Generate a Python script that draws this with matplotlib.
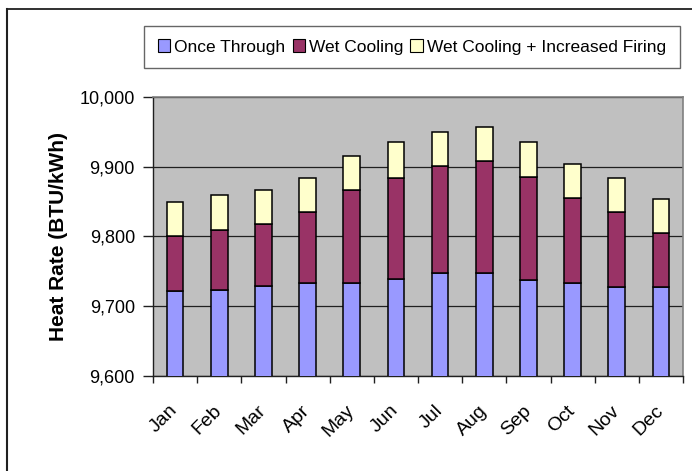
import numpy as np
import matplotlib
matplotlib.use("Agg")
import matplotlib.pyplot as plt
import matplotlib.transforms as mtransforms
from matplotlib.lines import Line2D
from matplotlib.patches import Patch

plt.rcParams['font.family'] = ['Liberation Sans', 'DejaVu Sans']

months = ['Jan', 'Feb', 'Mar', 'Apr', 'May', 'Jun',
          'Jul', 'Aug', 'Sep', 'Oct', 'Nov', 'Dec']
# Heat rate in BTU/kWh (stacked segments)
once_through = [9722, 9724, 9729, 9734, 9734, 9739, 9747, 9747, 9737, 9734, 9727, 9727]
wet_cooling = [79, 86, 89, 101, 133, 145, 154, 161, 149, 121, 108, 78]
increased_firing = [49, 50, 49, 49, 49, 52, 49, 49, 49, 49, 49, 49]
y_ticks = [9600, 9700, 9800, 9900, 10000]
series_names = ['Once Through', 'Wet Cooling', 'Wet Cooling + Increased Firing']

W, H = 692, 471
fig = plt.figure(figsize=(W / 100, H / 100), dpi=100)
ax = fig.add_axes([153 / W, 1 - 376 / H, 530 / W, 279 / H])
ax.set_facecolor('#C0C0C0')

x = np.arange(len(months))
once = np.array(once_through)
wet = np.array(wet_cooling)
fire = np.array(increased_firing)
colors = ['#9999FF', '#993366', '#FFFFCC']
bw = 0.38
ax.bar(x, once, bw, color=colors[0], edgecolor='black', linewidth=1.1, zorder=3)
ax.bar(x, wet, bw, bottom=once, color=colors[1], edgecolor='black', linewidth=1.1, zorder=3)
ax.bar(x, fire, bw, bottom=once + wet, color=colors[2], edgecolor='black', linewidth=1.1, zorder=3)

ax.set_ylim(9600, 10000)
ax.set_xlim(-0.5, len(months) - 0.5)
ax.set_yticks(y_ticks)
ax.set_yticklabels([f'{v:,}' for v in y_ticks], fontsize=13)
ax.yaxis.grid(True, color='#202020', linewidth=0.9, zorder=1)
ax.set_axisbelow(True)

ax.set_xticks(x)
ax.set_xticklabels(months, fontsize=14, rotation=45, ha='right', va='center',
                   rotation_mode='anchor')
shift = mtransforms.ScaledTranslation(-3 / 100, 0, fig.dpi_scale_trans)
for lbl in ax.get_xticklabels():
    lbl.set_transform(lbl.get_transform() + shift)
ax.set_xticks(np.arange(-0.5, len(months)), minor=True)
ax.tick_params(axis='x', which='major', length=0, pad=23)
ax.tick_params(axis='x', which='minor', length=5, width=1, color='#202020')
ax.tick_params(axis='y', length=7, width=1, color='#202020', pad=6)

for s in ['top', 'right']:
    ax.spines[s].set_color('#808080')
    ax.spines[s].set_linewidth(1.2)
for s in ['left', 'bottom']:
    ax.spines[s].set_color('#202020')
    ax.spines[s].set_linewidth(1)

ax.set_ylabel('Heat Rate (BTU/kWh)', fontsize=15, fontweight='bold', labelpad=8)

handles = [Patch(facecolor=c, edgecolor='black', linewidth=0.8) for c in colors]
leg = fig.legend(handles, series_names, loc='center',
                 bbox_to_anchor=(412 / W, 1 - 47 / H), ncol=3, fontsize=12.5,
                 frameon=True, fancybox=False, edgecolor='#404040',
                 handlelength=0.7, handleheight=0.7, handletextpad=0.25,
                 columnspacing=0.4, borderpad=0.8, borderaxespad=0)
leg.get_frame().set_linewidth(1)

# outer chart border (top and left edges visible)
fig.add_artist(Line2D([7 / W, 1], [1 - 9 / H, 1 - 9 / H], color='#202020', linewidth=1.3))
fig.add_artist(Line2D([7 / W, 7 / W], [0, 1 - 9 / H], color='#202020', linewidth=1.5))

fig.savefig('out.png', dpi=100)
